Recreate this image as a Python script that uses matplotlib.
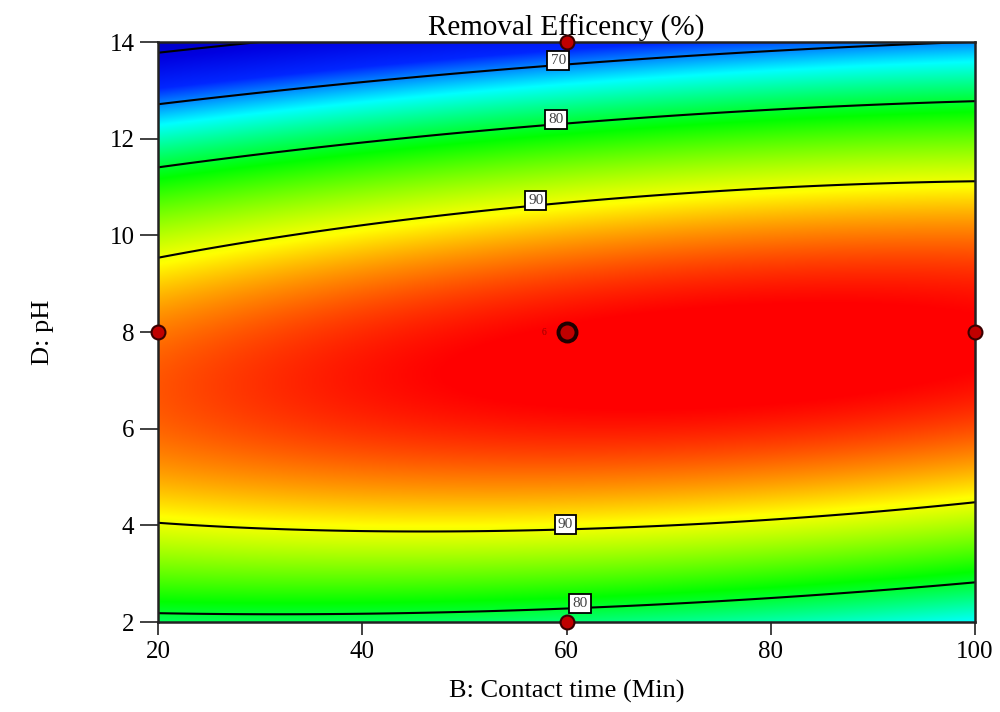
import numpy as np
import matplotlib
matplotlib.use("Agg")
import matplotlib.pyplot as plt
from matplotlib.colors import LinearSegmentedColormap

# ---- data ----
time_levels = [20, 60, 100]              # B: Contact time (Min)
ph_levels = [2, 5, 8, 11, 14]            # D: pH
removal_t20 = [78.7, 93.1, 94.5, 82.9, 57.4]
removal_t60 = [77.9, 94.4, 97.9, 88.3, 65.8]
removal_t100 = [73.7, 92.3, 97.9, 90.5, 70.1]

unlabeled_levels = [60]
labeled_levels = [70, 80, 90]
label_spots = [(59.1, 13.75), (58.9, 12.45), (56.9, 10.8), (59.9, 3.95), (61.3, 2.35)]

design_time = [20, 100, 60, 60]
design_ph = [8, 8, 14, 2]
center_time = [60]
center_ph = [8]
center_reps = ["6"]

x_ticks = [20, 40, 60, 80, 100]
y_ticks = [2, 4, 6, 8, 10, 12, 14]

color_values = [55, 61, 67, 73.5, 81.5, 90.5, 94.6, 97.8, 99]
color_list = [(0, 0, 0.68), (0, 0, 0.88), (0, 0.15, 1.0), (0, 1, 1), (0, 1, 0),
              (1, 1, 0), (1, 0.45, 0), (1, 0.0, 0), (1, 0, 0)]

# ---- response-surface fit (full quadratic in coded units) ----
T, P = np.meshgrid(time_levels, ph_levels, indexing="ij")
Zr = np.array([removal_t20, removal_t60, removal_t100])
def design(t, p):
    X = (np.asarray(t, dtype=float) - 60) / 40.0
    Y = (np.asarray(p, dtype=float) - 8) / 6.0
    return np.stack([np.ones_like(X), X, Y, X * Y, X ** 2, Y ** 2], axis=-1)
coef, *_ = np.linalg.lstsq(design(T.ravel(), P.ravel()), Zr.ravel(), rcond=None)

tg = np.linspace(20, 100, 500)
pg = np.linspace(2, 14, 500)
TG, PG = np.meshgrid(tg, pg)
ZG = design(TG, PG) @ coef

vmin, vmax = color_values[0], color_values[-1]
cmap = LinearSegmentedColormap.from_list(
    "de", [((v - vmin) / (vmax - vmin), c) for v, c in zip(color_values, color_list)],
    N=2048)

plt.rcParams["font.family"] = ["Liberation Serif", "DejaVu Serif"]
fig = plt.figure(figsize=(10, 7.12), dpi=100)
ax = fig.add_axes([0.158, 0.1264, 0.817, 0.8146])

ax.imshow(ZG, origin="lower", extent=[20, 100, 2, 14], aspect="auto",
          cmap=cmap, vmin=vmin, vmax=vmax, interpolation="bilinear")
ax.contour(TG, PG, ZG, levels=unlabeled_levels, colors="black", linewidths=1.5)
cs = ax.contour(TG, PG, ZG, levels=labeled_levels, colors="black", linewidths=1.5)
labs = ax.clabel(cs, inline=False, fontsize=11, fmt="%d",
                 manual=label_spots, colors="#444444")
for t in labs:
    t.set_bbox(dict(boxstyle="square,pad=0.2", fc="white", ec="black", lw=1.3))
    t.set_rotation(0)
    t.set_zorder(5)
    x, y = t.get_position()
    t.set_position((x, y + 0.1))

ax.plot(design_time, design_ph, "o", ms=10, mfc="#c00000", mec="#3a0000",
        mew=1.5, clip_on=False, zorder=6)
ax.plot(center_time, center_ph, "o", ms=13, mfc="#c00000", mec="#200000",
        mew=2.8, clip_on=False, zorder=6)
ax.text(center_time[0] - 2.2, center_ph[0], center_reps[0], color="#990000",
        fontsize=7, ha="center", va="center", zorder=6)

ax.set_xlim(20, 100)
ax.set_ylim(2, 14)
ax.set_xticks(x_ticks)
ax.set_yticks(y_ticks)
ax.tick_params(axis="y", direction="out", length=13, width=1.3, color="#333333",
               labelsize=18, pad=4)
ax.tick_params(axis="x", direction="out", length=9, width=1.3, color="#333333",
               labelsize=18, pad=5)
for s in ax.spines.values():
    s.set_linewidth(1.8)
    s.set_color("#222222")

ax.set_title("Removal Efficency (%)", fontsize=21, pad=4)
ax.set_xlabel("B: Contact time (Min)", fontsize=19, labelpad=12)
ax.set_ylabel("D: pH", fontsize=19, labelpad=40)

fig.savefig("out.png", dpi=100)
